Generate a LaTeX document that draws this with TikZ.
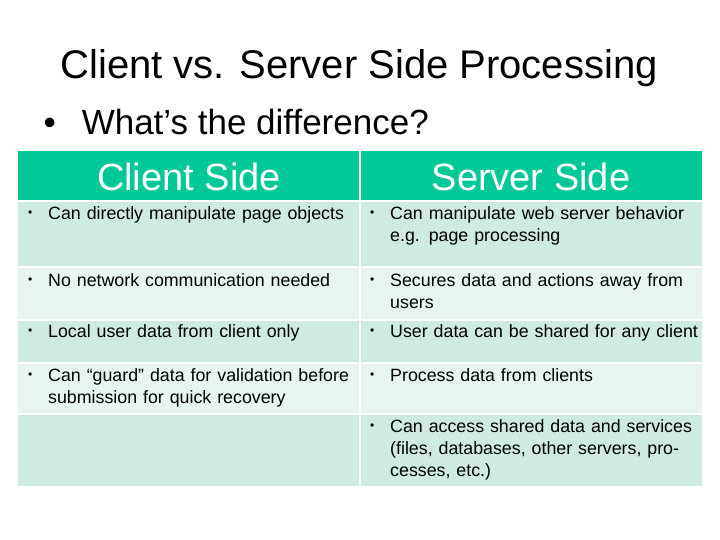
\documentclass[tikz,border=0pt]{standalone}
\usepackage{fontspec}
\setmainfont{Liberation Sans}
\definecolor{hdr}{HTML}{00C896}
\definecolor{rowa}{HTML}{CFEAE2}
\definecolor{rowb}{HTML}{E8F4F0}
\begin{document}
\begin{tikzpicture}[x=1pt,y=-1pt,
  txt/.style={anchor=north west,inner sep=0pt,align=left,font=\fontsize{17.8}{22}\selectfont,text width=#1},
  hd/.style={font=\fontsize{38}{40}\selectfont,text=white}]
\useasboundingbox (0,0) rectangle (720,540);
\fill[white] (0,0) rectangle (720,540);
\node[font=\fontsize{40}{44}\selectfont] (title) at (359,68) {Client vs. Server Side Processing};
\node[font=\fontsize{35}{38}\selectfont,anchor=west] (sub) at (40,122) {•\hspace{26pt}What’s the difference?};
% header
\fill[hdr] (18,151) rectangle (359,200);
\fill[hdr] (361,151) rectangle (702,200);
\node[hd] (hl) at (189,177) {Client Side};
\node[hd] (hr) at (531,177) {Server Side};
% rows
\foreach \a/\b/\c in {202/266/rowa,268/319/rowb,321/362/rowa,364/413/rowb,415/486/rowa}{
  \fill[\c] (18,\a) rectangle (359,\b);
  \fill[\c] (361,\a) rectangle (702,\b);
}
\newcommand{\bul}[4]{\node[txt=20pt,font=\fontsize{12}{12}\selectfont] at (#1,#2+5) {•};
  \node[txt=#4] at (#1+20,#2) {\hyphenpenalty=10000\exhyphenpenalty=10000 #3};}
\bul{28}{206}{Can directly manipulate page objects}{312pt}
\bul{28}{273}{No network communication needed}{312pt}
\bul{28}{324}{Local user data from client only}{312pt}
\bul{28}{368}{Can “guard” data for validation before submission for quick recovery}{305pt}
\bul{370}{206}{Can manipulate web server behavior e.g. page processing}{300pt}
\bul{370}{273}{Secures data and actions away from users}{300pt}
\bul{370}{324}{User data can be shared for any client}{320pt}
\bul{370}{368}{Process data from clients}{300pt}
\bul{370}{419}{Can access shared data and services (files, databases, other servers, processes, etc.)}{305pt}
\end{tikzpicture}
\end{document}
